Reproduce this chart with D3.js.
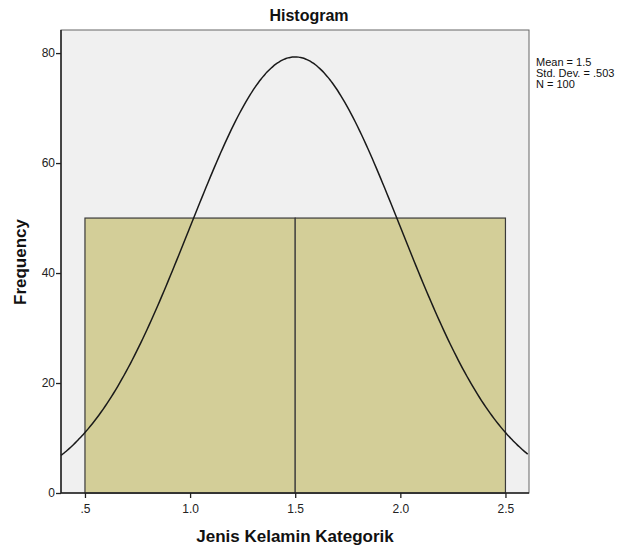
<!DOCTYPE html>
<html>
<head>
<meta charset="utf-8">
<script src="https://cdn.jsdelivr.net/npm/d3@7"></script>
<style>
  body { margin: 0; background: #fff; }
  svg text { font-family: "Liberation Sans", Arial, sans-serif; }
</style>
</head>
<body>
<div id="chart"></div>
<script>
// histogram bins (lower edge, upper edge) and counts
var binStart = [0.5, 1.5];
var binEnd = [1.5, 2.5];
var counts = [50, 50];

// summary stats shown at right
var mean = 1.5;
var stdDev = 0.503;
var n = 100;

var xTicks = [0.5, 1.0, 1.5, 2.0, 2.5];
var xTickLabels = [".5", "1.0", "1.5", "2.0", "2.5"];
var yTicks = [0, 20, 40, 60, 80];

var W = 624, H = 549;
var margin = {top: 30, right: 95, bottom: 56, left: 61};
var width = W - margin.left - margin.right;
var height = H - margin.top - margin.bottom;

var svg = d3.select("#chart")
    .append("svg")
    .attr("width", W)
    .attr("height", H);

var g = svg.append("g")
    .attr("transform", "translate(" + margin.left + "," + margin.top + ")");

var x = d3.scaleLinear()
    .domain([0.386, 2.612])
    .range([0, width]);

var y = d3.scaleLinear()
    .domain([0, 84.2])
    .range([height, 0]);

// plot background
g.append("rect")
    .attr("width", width)
    .attr("height", height)
    .attr("fill", "#f0f0f0")
    .attr("stroke", "#666")
    .attr("stroke-width", 1);

// bars
g.selectAll(".bar")
    .data(counts)
    .enter()
    .append("rect")
    .attr("class", "bar")
    .attr("x", function(d, i) { return x(binStart[i]); })
    .attr("y", function(d) { return y(d); })
    .attr("width", function(d, i) { return x(binEnd[i]) - x(binStart[i]); })
    .attr("height", function(d) { return y(0) - y(d); })
    .attr("fill", "#d3ce98")
    .attr("stroke", "#3a3a3a")
    .attr("stroke-width", 1.2);

// normal curve from mean / sd / N (bin width 1)
var binWidth = binEnd[0] - binStart[0];
var curveX = d3.range(x.domain()[0], x.domain()[1] + 0.001, 0.01);
var line = d3.line()
    .x(function(d) { return x(d); })
    .y(function(d) {
        var z = (d - mean) / stdDev;
        return y(n * binWidth * Math.exp(-0.5 * z * z) / (stdDev * Math.sqrt(2 * Math.PI)));
    })
    .curve(d3.curveBasis);

g.append("path")
    .datum(curveX)
    .attr("d", line)
    .attr("fill", "none")
    .attr("stroke", "#1a1a1a")
    .attr("stroke-width", 1.5);

// axes
var xAxis = g.append("g")
    .attr("transform", "translate(0," + height + ")")
    .call(d3.axisBottom(x)
        .tickValues(xTicks)
        .tickFormat(function(d, i) { return xTickLabels[i]; })
        .tickSize(5)
        .tickSizeOuter(0));

var yAxis = g.append("g")
    .call(d3.axisLeft(y)
        .tickValues(yTicks)
        .tickSize(5)
        .tickSizeOuter(0));

[xAxis, yAxis].forEach(function(a) {
    a.select(".domain").attr("stroke", "#222").attr("stroke-width", 1.5);
    a.selectAll(".tick line").attr("stroke", "#222").attr("stroke-width", 1.3);
    a.selectAll(".tick text")
        .style("font-family", "'Liberation Sans', Arial, sans-serif")
        .style("font-size", "12px")
        .attr("fill", "#222");
});
xAxis.selectAll(".tick text").attr("y", 9).attr("dy", "0.9em");
yAxis.selectAll(".tick text").attr("x", -6);
// domain lines should span full plot
xAxis.select(".domain").attr("d", "M0,0H" + width);
yAxis.select(".domain").attr("d", "M0,0V" + height);

// title
svg.append("text")
    .attr("x", 309)
    .attr("y", 21)
    .attr("text-anchor", "middle")
    .style("font-size", "16px")
    .style("font-weight", "bold")
    .attr("fill", "#111")
    .text("Histogram");

// axis titles
svg.append("text")
    .attr("x", margin.left + width / 2)
    .attr("y", 542)
    .attr("text-anchor", "middle")
    .style("font-size", "17px")
    .style("font-weight", "bold")
    .attr("fill", "#111")
    .text("Jenis Kelamin Kategorik");

svg.append("text")
    .attr("transform", "rotate(-90)")
    .attr("x", -262)
    .attr("y", 26)
    .attr("text-anchor", "middle")
    .style("font-size", "17px")
    .style("font-weight", "bold")
    .attr("fill", "#111")
    .text("Frequency");

// stats box
var stats = ["Mean = " + mean, "Std. Dev. = " + d3.format(".3f")(stdDev).replace(/^0/, ""), "N = " + n];
svg.append("g")
    .selectAll("text")
    .data(stats)
    .enter()
    .append("text")
    .attr("x", 536)
    .attr("y", function(d, i) { return 66 + i * 11; })
    .style("font-size", "11px")
    .attr("fill", "#111")
    .text(function(d) { return d; });
</script>
</body>
</html>
